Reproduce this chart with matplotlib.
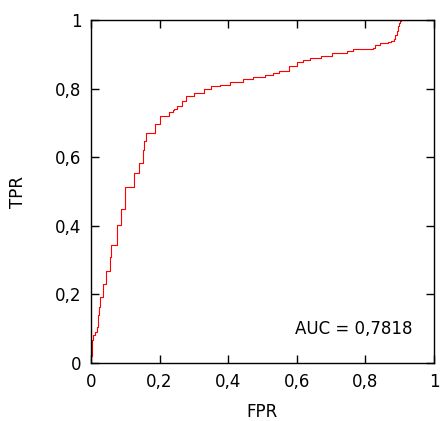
import matplotlib.pyplot as plt

# points de la courbe ROC
fpr = [0.002, 0.002, 0.0068, 0.0117, 0.0165, 0.0194, 0.0233, 0.0272, 0.036,
       0.0437, 0.0554, 0.0583, 0.0768, 0.0875, 0.1001, 0.1254, 0.139, 0.1516,
       0.1536, 0.1613, 0.1876, 0.2021, 0.2264, 0.2391, 0.243, 0.2498, 0.2653,
       0.2779, 0.3013, 0.3285, 0.349, 0.376, 0.405, 0.444, 0.471, 0.507, 0.530,
       0.547, 0.578, 0.600, 0.617, 0.638, 0.670, 0.702, 0.745, 0.763, 0.821,
       0.828, 0.843, 0.867, 0.876, 0.882, 0.887, 0.891, 0.895, 0.898, 0.901,
       0.904, 1.0]
tpr = [0.02, 0.067, 0.082, 0.091, 0.106, 0.14, 0.164, 0.193, 0.229,
       0.268, 0.308, 0.343, 0.402, 0.448, 0.512, 0.555, 0.584, 0.621,
       0.648, 0.671, 0.696, 0.720, 0.732, 0.737, 0.741, 0.749, 0.765,
       0.778, 0.786, 0.798, 0.807, 0.811, 0.819, 0.829, 0.835, 0.839, 0.845,
       0.850, 0.865, 0.878, 0.882, 0.888, 0.895, 0.903, 0.909, 0.914, 0.918,
       0.926, 0.932, 0.936, 0.940, 0.946, 0.955, 0.968, 0.982, 0.992, 0.998,
       1.0, 1.0]
auc = 0.7818

ticks = [0, 0.2, 0.4, 0.6, 0.8, 1]
labels = ['0', '0,2', '0,4', '0,6', '0,8', '1']

fig = plt.figure(figsize=(4.42, 4.21), dpi=100)
ax = fig.add_axes([91/442, 1 - 363/421, 343/442, 343/421])

ax.plot(fpr, tpr, color='red', lw=0.8, drawstyle='steps-post')
ax.set_xlim(0, 1)
ax.set_ylim(0, 1)
ax.set_xticks(ticks)
ax.set_xticklabels(labels)
ax.set_yticks(ticks)
ax.set_yticklabels(labels)
ax.tick_params(direction='in', top=True, right=True, length=6, width=1,
               labelsize=12, pad=7)
for s in ax.spines.values():
    s.set_linewidth(1)
ax.set_xlabel('FPR', fontsize=12, labelpad=9)
ax.set_ylabel('TPR', fontsize=12, labelpad=20)
ax.text(0.936, 0.099, 'AUC = ' + f'{auc:.4f}'.replace('.', ','),
        ha='right', va='center', fontsize=12, transform=ax.transAxes)

plt.savefig('out.png', dpi=100)
